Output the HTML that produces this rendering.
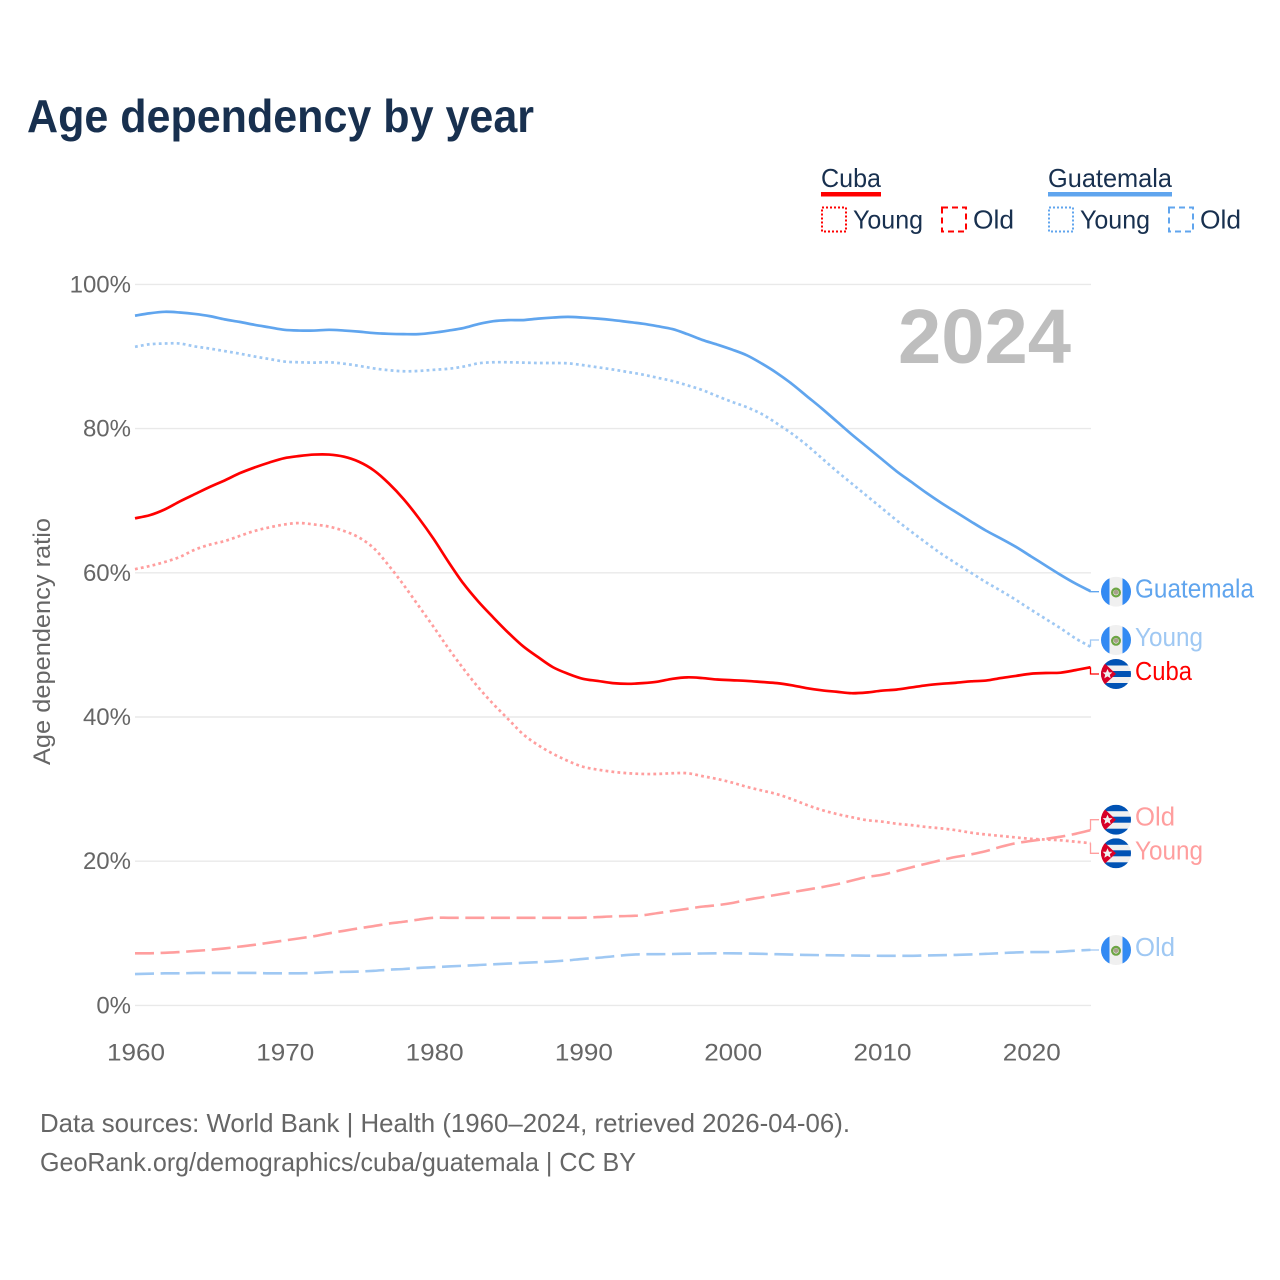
<!DOCTYPE html>
<html lang="en">
<head>
<meta charset="utf-8">
<title>Age dependency by year</title>
<style>
html,body{margin:0;padding:0;background:#fff;}
svg{display:block;font-family:"Liberation Sans",sans-serif;}
</style>
</head>
<body>
<svg id="chart" xmlns="http://www.w3.org/2000/svg" width="1280" height="1280" viewBox="0 0 1280 1280">
<defs>
<clipPath id="flag-clip"><circle cx="0" cy="0" r="15"/></clipPath>
<symbol id="flag-cu" overflow="visible" viewBox="-15 -15 30 30" width="30" height="30">
<g clip-path="url(#flag-clip)">
<rect x="-15" y="-15" width="30" height="30" fill="#f0f0f0"/>
<rect x="-15" y="-15" width="30" height="6.5" fill="#0052b4"/>
<rect x="-15" y="-3" width="30" height="6" fill="#0052b4"/>
<rect x="-15" y="9" width="30" height="6" fill="#0052b4"/>
<path d="M-15,-14 L0,0 L-15,14 Z" fill="#d80027"/>
<path d="M-8.5,-5 L-7,-1.6 L-3.6,-1.6 L-6.2,0.8 L-5.3,4.4 L-8.5,2.4 L-11.7,4.4 L-10.8,0.8 L-13.4,-1.6 L-10,-1.6 Z" fill="#f0f0f0"/>
</g>
</symbol>
<symbol id="flag-gt" overflow="visible" viewBox="-15 -15 30 30" width="30" height="30">
<g clip-path="url(#flag-clip)">
<rect x="-15" y="-15" width="30" height="30" fill="#f0f0f0"/>
<rect x="-15" y="-15" width="8.5" height="30" fill="#338af3"/>
<rect x="6.5" y="-15" width="8.5" height="30" fill="#338af3"/>
<circle cx="0" cy="0.8" r="3.9" fill="none" stroke="#6da544" stroke-width="2.2"/>
<circle cx="0" cy="0.6" r="2.4" fill="#a89f8c"/>
</g>
</symbol>
</defs>
<rect x="0" y="0" width="1280" height="1280" fill="#fff"/>
<g id="grid"></g>
<g id="x-ticks"></g>
<g id="y-ticks"></g>
<text x="27" y="132" font-size="46" font-weight="700" fill="#18304f" textLength="507" lengthAdjust="spacingAndGlyphs">Age dependency by year</text>
<text x="898" y="363" font-size="77" font-weight="700" fill="#bebebe" textLength="173" lengthAdjust="spacingAndGlyphs">2024</text>
<text transform="translate(50,641.5) rotate(-90)" text-anchor="middle" font-size="24" fill="#666666" textLength="247" lengthAdjust="spacingAndGlyphs">Age dependency ratio</text>

<g>
<g>
<text x="821" y="187" font-size="26" fill="#18304f" textLength="60" lengthAdjust="spacingAndGlyphs">Cuba</text>
<rect x="821" y="192" width="60" height="4.5" fill="#ff0000"/>
<rect x="822" y="207.5" width="24" height="24" fill="none" stroke="#ff0000" stroke-width="2" stroke-dasharray="2 2"/>
<text x="853" y="228.5" font-size="26" fill="#18304f" textLength="70" lengthAdjust="spacingAndGlyphs">Young</text>
<rect x="942" y="207.5" width="24" height="24" fill="none" stroke="#ff0000" stroke-width="2" stroke-dasharray="6 4"/>
<text x="973" y="228.5" font-size="26" fill="#18304f" textLength="41" lengthAdjust="spacingAndGlyphs">Old</text>
</g>
<g>
<text x="1048" y="187" font-size="26" fill="#18304f" textLength="124" lengthAdjust="spacingAndGlyphs">Guatemala</text>
<rect x="1048" y="192" width="124" height="4.5" fill="#60a5ee"/>
<rect x="1049" y="207.5" width="24" height="24" fill="none" stroke="#60a5ee" stroke-width="2" stroke-dasharray="2 2"/>
<text x="1080" y="228.5" font-size="26" fill="#18304f" textLength="70" lengthAdjust="spacingAndGlyphs">Young</text>
<rect x="1169" y="207.5" width="24" height="24" fill="none" stroke="#60a5ee" stroke-width="2" stroke-dasharray="6 4"/>
<text x="1200" y="228.5" font-size="26" fill="#18304f" textLength="41" lengthAdjust="spacingAndGlyphs">Old</text>
</g>
</g>

<g id="series"></g>
<g id="end-labels"></g>

<text x="40" y="1132" font-size="26" fill="#666666" textLength="810" lengthAdjust="spacingAndGlyphs">Data sources: World Bank | Health (1960–2024, retrieved 2026-04-06).</text>
<text x="40" y="1171" font-size="26" fill="#666666" textLength="596" lengthAdjust="spacingAndGlyphs">GeoRank.org/demographics/cuba/guatemala | CC BY</text>
</svg>

<script>
const startYear = 1960;
const xTickLabels = [1960, 1970, 1980, 1990, 2000, 2010, 2020];
const yTickLabels = [0, 20, 40, 60, 80, 100];

const cubaTotal = [67.56,68.0,68.8,69.9,70.9,71.9,72.8,73.8,74.6,75.3,75.9,76.2,76.4,76.4,76.1,75.4,74.2,72.4,70.2,67.6,64.7,61.5,58.5,56.0,53.8,51.7,49.8,48.3,46.9,46.0,45.3,45.0,44.7,44.6,44.7,44.9,45.3,45.5,45.4,45.2,45.1,45.0,44.85,44.7,44.4,44.0,43.7,43.5,43.3,43.4,43.65,43.8,44.1,44.4,44.6,44.75,44.95,45.05,45.4,45.7,46.0,46.1,46.15,46.5,46.9];
const cubaYoung = [60.5,60.95,61.5,62.2,63.2,63.9,64.4,65.1,65.8,66.3,66.7,66.9,66.7,66.4,65.8,64.9,63.4,61.0,58.3,55.4,52.5,49.5,46.7,44.1,41.8,39.7,37.6,36.1,34.9,33.9,33.1,32.7,32.4,32.2,32.1,32.1,32.2,32.2,31.8,31.4,30.9,30.3,29.8,29.3,28.6,27.8,27.1,26.55,26.1,25.7,25.5,25.2,25.0,24.75,24.55,24.3,23.95,23.7,23.5,23.3,23.1,23.0,22.9,22.7,22.5];
const cubaOld = [7.23,7.23,7.3,7.4,7.55,7.7,7.9,8.15,8.4,8.7,9.0,9.3,9.6,10.0,10.35,10.7,11.0,11.35,11.6,11.9,12.15,12.15,12.15,12.15,12.15,12.15,12.15,12.15,12.15,12.15,12.17,12.25,12.35,12.4,12.5,12.8,13.1,13.4,13.7,13.9,14.2,14.65,15.0,15.35,15.7,16.05,16.4,16.8,17.3,17.8,18.1,18.6,19.15,19.65,20.15,20.6,20.95,21.4,22.0,22.5,22.8,23.1,23.4,23.8,24.3];
const guatemalaTotal = [95.66,96.0,96.2,96.1,95.9,95.6,95.15,94.8,94.4,94.05,93.7,93.6,93.6,93.7,93.6,93.45,93.25,93.15,93.1,93.1,93.3,93.6,93.95,94.5,94.9,95.05,95.05,95.25,95.4,95.5,95.4,95.25,95.05,94.8,94.55,94.2,93.8,93.1,92.3,91.65,90.95,90.15,89.0,87.7,86.2,84.5,82.8,81.0,79.2,77.5,75.8,74.1,72.6,71.1,69.7,68.4,67.1,65.85,64.75,63.6,62.3,61.0,59.7,58.5,57.45];
const guatemalaYoung = [91.35,91.7,91.8,91.8,91.4,91.1,90.75,90.4,90.0,89.65,89.3,89.2,89.15,89.2,89.0,88.7,88.35,88.1,87.95,88.0,88.15,88.3,88.6,89.05,89.2,89.2,89.15,89.1,89.1,89.05,88.8,88.5,88.2,87.85,87.5,87.05,86.6,86.0,85.35,84.5,83.7,82.95,82.0,80.7,79.3,77.7,75.9,74.1,72.4,70.7,69.0,67.3,65.7,64.15,62.65,61.3,60.0,58.7,57.5,56.25,54.9,53.6,52.3,50.9,49.75];
const guatemalaOld = [4.35,4.4,4.45,4.45,4.5,4.5,4.5,4.5,4.5,4.45,4.45,4.45,4.5,4.6,4.65,4.7,4.8,4.95,5.05,5.2,5.3,5.4,5.5,5.6,5.7,5.8,5.9,6.0,6.1,6.25,6.45,6.6,6.8,7.0,7.1,7.1,7.13,7.17,7.2,7.23,7.23,7.2,7.15,7.1,7.05,7.0,6.97,6.95,6.92,6.9,6.88,6.88,6.88,6.93,6.97,7.0,7.07,7.15,7.25,7.35,7.4,7.4,7.45,7.6,7.7];

const SVGNS = 'http://www.w3.org/2000/svg';
const xScale = function (year) { return 135 + (year - 1960) * (1090.5 - 135) / 64; };
const yScale = function (value) { return 1005.4 - value * 7.21; };

function make(tag, attrs, parent) {
  const el = document.createElementNS(SVGNS, tag);
  for (const k in attrs) el.setAttribute(k, attrs[k]);
  parent.appendChild(el);
  return el;
}

function smoothPath(values) {
  const p = values.map(function (v, i) { return [xScale(startYear + i), yScale(v)]; });
  let d = 'M' + p[0][0].toFixed(2) + ',' + p[0][1].toFixed(2);
  for (let i = 0; i < p.length - 1; i++) {
    const a = p[Math.max(i - 1, 0)], b = p[i], c = p[i + 1], e = p[Math.min(i + 2, p.length - 1)];
    const c1x = b[0] + (c[0] - a[0]) / 6, c1y = b[1] + (c[1] - a[1]) / 6;
    const c2x = c[0] - (e[0] - b[0]) / 6, c2y = c[1] - (e[1] - b[1]) / 6;
    d += 'C' + c1x.toFixed(2) + ',' + c1y.toFixed(2) + ' ' + c2x.toFixed(2) + ',' + c2y.toFixed(2) + ' ' + c[0].toFixed(2) + ',' + c[1].toFixed(2);
  }
  return d;
}

const gridG = document.getElementById('grid');
const yTickG = document.getElementById('y-ticks');
yTickLabels.forEach(function (v) {
  const line = make('line', {x1: 135, x2: 1091, y1: yScale(v), y2: yScale(v), stroke: '#e9e9e9', 'stroke-width': 1.4}, gridG);
  
  
  const t = make('text', {x: 131, y: yScale(v) + 8, 'text-anchor': 'end', 'font-size': 24, fill: '#666666'}, yTickG);
  
  
  t.textContent = v + '%';
});

const xTickG = document.getElementById('x-ticks');
xTickLabels.forEach(function (y) {
  const t = make('text', {x: xScale(y) + 1, y: 1060.5, 'text-anchor': 'middle', 'font-size': 24.5, fill: '#666666', textLength: 58, lengthAdjust: 'spacingAndGlyphs'}, xTickG);
  
  
  t.textContent = y;
});

function drawSeries(name, values, color, width, dash, labelText, labelY, flag, connectorColor) {
  const seriesG = document.getElementById('series');
  const line = make('path', {d: smoothPath(values), fill: 'none', stroke: color, 'stroke-width': width, 'stroke-linejoin': 'round'}, seriesG);
  if (dash) line.setAttribute('stroke-dasharray', dash);
  
  

  const labelsG = document.getElementById('end-labels');
  const endX = xScale(startYear + values.length - 1);
  const endY = yScale(values[values.length - 1]);
  const conn = make('polyline', {points: endX + ',' + endY + ' ' + endX + ',' + labelY + ' 1099,' + labelY, fill: 'none', stroke: connectorColor, 'stroke-width': 1.3}, labelsG);
  
  
  const u = make('use', {href: flag === 'cu' ? '#flag-cu' : '#flag-gt', x: 1101, y: labelY - 15, width: 30, height: 30}, labelsG);
  
  
  const widths = {Guatemala: 119, Young: 68, Cuba: 57, Old: 40};
  const t = make('text', {x: 1135, y: labelY + 6, 'font-size': 25.5, fill: color, textLength: widths[labelText], lengthAdjust: 'spacingAndGlyphs'}, labelsG);
  
  
  t.textContent = labelText;
}

drawSeries('guatemala-old', guatemalaOld, '#9fc8f3', 2.6, '19 6.6', 'Old', 950, 'gt', '#9fc8f3');
drawSeries('cuba-old', cubaOld, '#ff9e9e', 2.6, '19 6.6', 'Old', 819.7, 'cu', '#ff9e9e');
drawSeries('cuba-young', cubaYoung, '#ff9e9e', 2.7, '2.8 3.2', 'Young', 853.3, 'cu', '#ff9e9e');
drawSeries('guatemala-young', guatemalaYoung, '#9fc8f3', 2.7, '2.8 3.2', 'Young', 640, 'gt', '#9fc8f3');
drawSeries('guatemala-total', guatemalaTotal, '#60a5ee', 2.7, '', 'Guatemala', 591.7, 'gt', '#60a5ee');
drawSeries('cuba-total', cubaTotal, '#ff0000', 2.7, '', 'Cuba', 674, 'cu', '#ff0000');
</script>
</body>
</html>
